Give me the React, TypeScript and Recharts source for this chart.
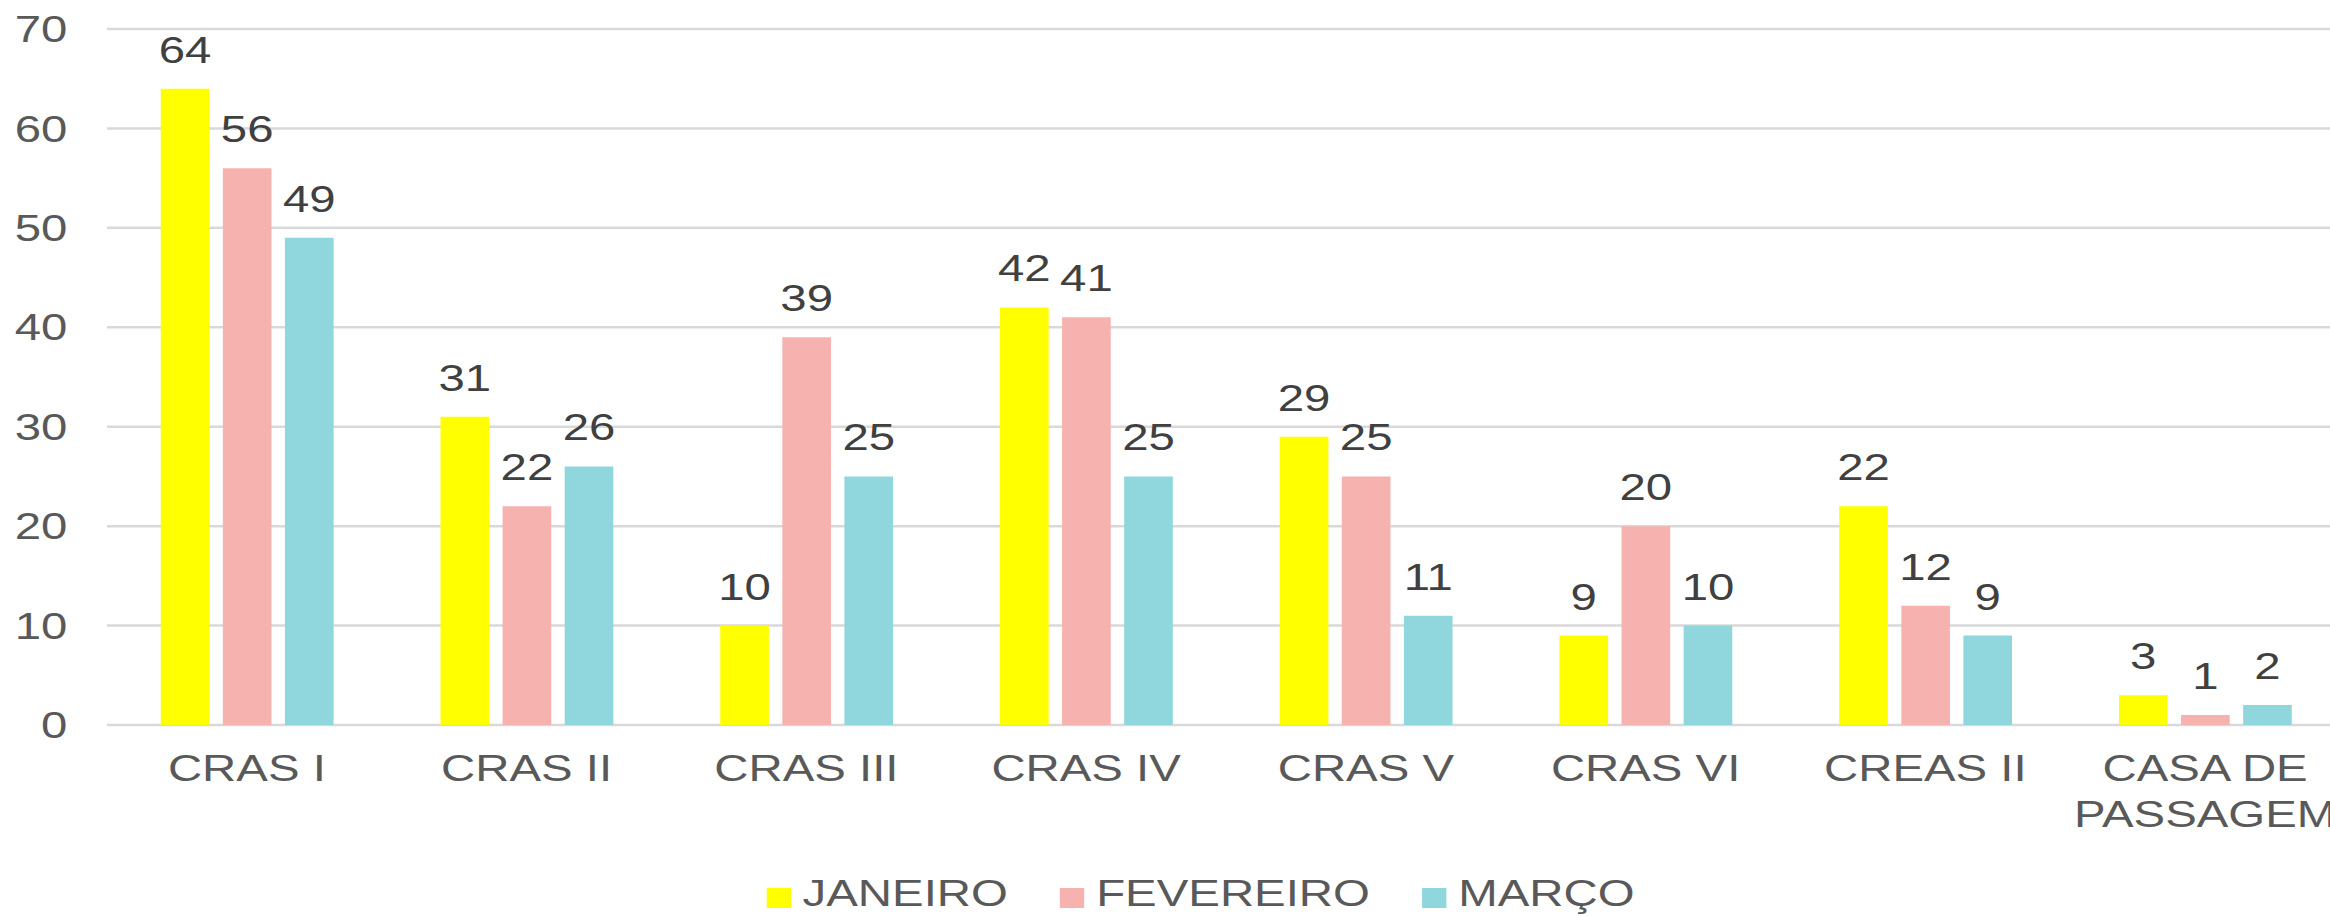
import React from 'react';
import {
  BarChart,
  Bar,
  XAxis,
  YAxis,
  CartesianGrid,
  Legend,
  LabelList,
} from 'recharts';

const categories = ['CRAS I', 'CRAS II', 'CRAS III', 'CRAS IV', 'CRAS V', 'CRAS VI', 'CREAS II', 'CASA DE PASSAGEM'];
const janeiro = [64, 31, 10, 42, 29, 9, 22, 3];
const fevereiro = [56, 22, 39, 41, 25, 20, 12, 1];
const marco = [49, 26, 25, 25, 11, 10, 9, 2];
const yTicks = [0, 10, 20, 30, 40, 50, 60, 70];
const seriesNames = ['JANEIRO', 'FEVEREIRO', 'MARÇO'];

const data = categories.map((name, i) => ({
  name,
  janeiro: janeiro[i],
  fevereiro: fevereiro[i],
  marco: marco[i],
}));

const FONT = '"Liberation Sans", Arial, sans-serif';
const AXIS_TEXT = '#595959';
const LABEL_TEXT = '#404040';
const STRETCH = 1.28; // the original picture is stretched sideways

const wrapLabel = (label: string, max = 9) => {
  const lines: string[] = [];
  let cur = '';
  label.split(' ').forEach((w) => {
    const next = cur ? cur + ' ' + w : w;
    if (cur && next.length > max) {
      lines.push(cur);
      cur = w;
    } else {
      cur = next;
    }
  });
  if (cur) lines.push(cur);
  return lines;
};

const CategoryTick = (props: any) => {
  const { x, y, payload } = props;
  const lines = wrapLabel(String(payload.value));
  return (
    <text x={x} y={y} textAnchor="middle" fill={AXIS_TEXT} fontSize={37} fontFamily={FONT}>
      {lines.map((l, i) => (
        <tspan key={i} x={x} dy={i === 0 ? '0.71em' : 46}>
          {l}
        </tspan>
      ))}
    </text>
  );
};

const renderLegend = (props: any) => {
  const payload = [...(props.payload || [])].sort(
    (a: any, b: any) => seriesNames.indexOf(a.value) - seriesNames.indexOf(b.value)
  );
  return (
    <div
      style={{
        height: 60,
        boxSizing: 'border-box',
        paddingTop: 16,
        paddingLeft: 44,
        display: 'flex',
        justifyContent: 'center',
        fontFamily: FONT,
        fontSize: 37,
        lineHeight: '42px',
        color: AXIS_TEXT,
      }}
    >
      {payload.map((entry: any, i: number) => (
        <div key={i} style={{ display: 'flex', alignItems: 'center', marginRight: i < payload.length - 1 ? 41 : 0 }}>
          <span
            style={{
              display: 'inline-block',
              width: 19,
              height: 20,
              background: entry.color,
              marginRight: 9,
              position: 'relative',
              top: 4,
            }}
          />
          <span>{entry.value}</span>
        </div>
      ))}
    </div>
  );
};

export default function App() {
  return (
    <div
      style={{
        position: 'absolute',
        left: 0,
        top: 0,
        width: 2330,
        height: 916,
        overflow: 'hidden',
        background: '#fff',
      }}
    >
      <div style={{ transform: `scaleX(${STRETCH})`, transformOrigin: '0 0', width: 1832 }}>
        <BarChart
          width={1832}
          height={916}
          data={data}
          margin={{ top: 29, right: 0, left: 0, bottom: 0 }}
          barSize={38}
          barGap={10.5}
        >
          <CartesianGrid vertical={false} stroke="#d9d9d9" strokeWidth={2.5} />
          <XAxis
            dataKey="name"
            axisLine={false}
            tickLine={false}
            tickSize={0}
            tickMargin={30}
            height={131}
            interval={0}
            tick={<CategoryTick />}
          />
          <YAxis
            width={83.6}
            domain={[0, 70]}
            ticks={yTicks}
            axisLine={false}
            tickLine={false}
            tickSize={0}
            tickMargin={31}
            tick={{ fill: AXIS_TEXT, fontSize: 37, fontFamily: FONT }}
          />
          <Legend verticalAlign="bottom" height={60} itemSorter={null} content={renderLegend} />
          <Bar dataKey="janeiro" name={seriesNames[0]} fill="#FFFF00" isAnimationActive={false}>
            <LabelList dataKey="janeiro" position="top" offset={26} fill={LABEL_TEXT} fontSize={37} fontFamily={FONT} />
          </Bar>
          <Bar dataKey="fevereiro" name={seriesNames[1]} fill="#F6B2AE" isAnimationActive={false}>
            <LabelList dataKey="fevereiro" position="top" offset={26} fill={LABEL_TEXT} fontSize={37} fontFamily={FONT} />
          </Bar>
          <Bar dataKey="marco" name={seriesNames[2]} fill="#8FD7DD" isAnimationActive={false}>
            <LabelList dataKey="marco" position="top" offset={26} fill={LABEL_TEXT} fontSize={37} fontFamily={FONT} />
          </Bar>
        </BarChart>
      </div>
    </div>
  );
}
